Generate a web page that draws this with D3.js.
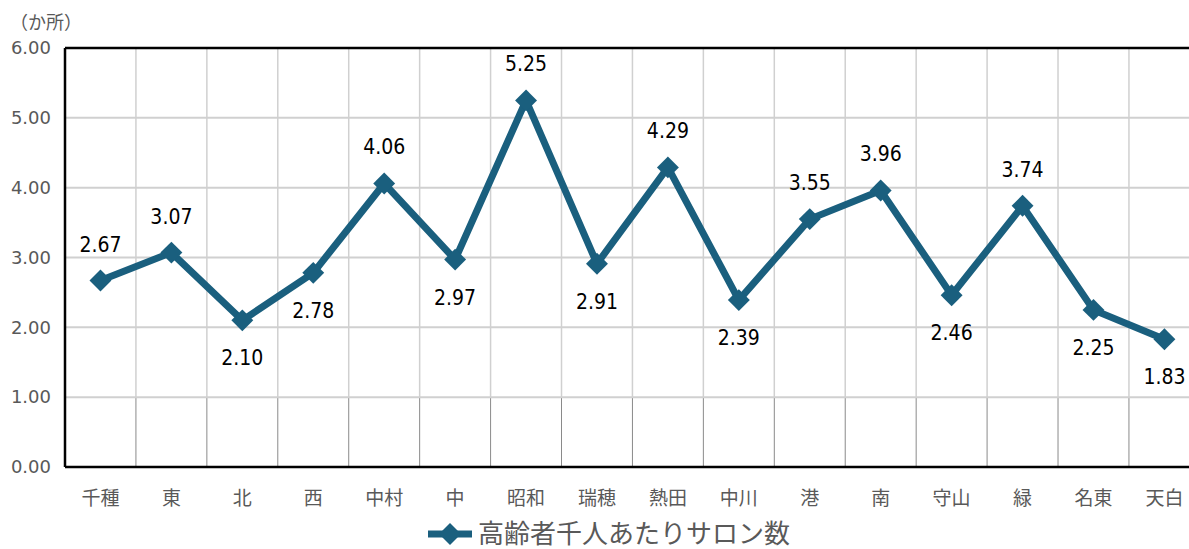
<!DOCTYPE html>
<html><head><meta charset="utf-8">
<script src="https://cdn.jsdelivr.net/npm/d3@7"></script>
<style>body{margin:0;background:#fff;}svg{display:block;}</style>
</head><body>
<svg id="c" width="1189" height="549"></svg>
<script>
const categories = ["千種","東","北","西","中村","中","昭和","瑞穂","熱田","中川","港","南","守山","緑","名東","天白"];
const values = [2.67,3.07,2.10,2.78,4.06,2.97,5.25,2.91,4.29,2.39,3.55,3.96,2.46,3.74,2.25,1.83];
const labelPos = ["above","above","below","below","above","below","above","below","above","below","above","above","below","above","below","below"];
const yTicks = [0,1,2,3,4,5,6];
const seriesName = "高齢者千人あたりサロン数";
const unitLabel = "（か所）";

(function(){
const svg = d3.select("#c");
const pLeft = 65, pTop = 48, pBottom = 467;
const band = 70.93;
const x = d3.scaleBand().domain(categories).range([pLeft, pLeft + band*categories.length]).padding(0);
const y = d3.scaleLinear().domain([0,6]).range([pBottom, pTop]);
const color = "#1a5f7e";

// horizontal gridlines
svg.append("g").selectAll("line").data(yTicks.filter(d=>d>0)).join("line")
  .attr("x1", pLeft).attr("x2", 1189).attr("y1", d=>y(d)).attr("y2", d=>y(d))
  .attr("stroke", "#d0d0d0").attr("stroke-width", 2);
// vertical gridlines
const vx = categories.slice(1).map(c => x(c));
svg.append("g").selectAll("line").data(vx).join("line")
  .attr("x1", d=>d).attr("x2", d=>d).attr("y1", pTop).attr("y2", y(1))
  .attr("stroke", "#d0d0d0").attr("stroke-width", 1.5);
svg.append("g").selectAll("line").data(vx).join("line")
  .attr("x1", d=>d).attr("x2", d=>d).attr("y1", y(1)+1).attr("y2", pBottom)
  .attr("stroke", "#8a8a8a").attr("stroke-width", 1);
// frame
svg.append("line").attr("x1", pLeft).attr("x2", 1189).attr("y1", pTop).attr("y2", pTop).attr("stroke", "#000").attr("stroke-width", 2.5);
svg.append("line").attr("x1", pLeft).attr("x2", 1189).attr("y1", pBottom).attr("y2", pBottom).attr("stroke", "#000").attr("stroke-width", 2.5);
svg.append("line").attr("x1", pLeft).attr("x2", pLeft).attr("y1", pTop).attr("y2", pBottom).attr("stroke", "#000").attr("stroke-width", 2.5);

// y tick labels
svg.append("g").selectAll("text").data(yTicks).join("text")
  .attr("x", 51).attr("y", d=>y(d)).attr("dy", "0.35em").attr("text-anchor", "end")
  .attr("font-family", "DejaVu Sans").attr("font-size", 18).attr("fill", "#595959")
  .text(d=>d3.format(".2f")(d));
svg.append("text").attr("x", 10).attr("y", 29)
  .attr("font-family", "Noto Sans CJK JP").attr("font-size", 18).attr("fill", "#595959").text(unitLabel);

// x labels
svg.append("g").selectAll("text").data(categories).join("text")
  .attr("x", d=>x(d)+x.bandwidth()/2).attr("y", 505).attr("text-anchor", "middle")
  .attr("font-family", "Noto Sans CJK JP").attr("font-size", 19).attr("fill", "#595959")
  .text(d=>d);

// line
const pts = categories.map((c,i)=>({c, v: values[i], p: labelPos[i]}));
svg.append("path").datum(pts)
  .attr("d", d3.line().x(d=>x(d.c)+x.bandwidth()/2).y(d=>y(d.v)))
  .attr("fill", "none").attr("stroke", color).attr("stroke-width", 7).attr("stroke-linejoin", "miter");
const diamond = d3.symbol().type(d3.symbolSquare).size(240);
svg.append("g").selectAll("path").data(pts).join("path")
  .attr("d", diamond())
  .attr("transform", d=>`translate(${x(d.c)+x.bandwidth()/2},${y(d.v)}) rotate(45)`)
  .attr("fill", color);

// data labels
svg.append("g").selectAll("text").data(pts).join("text")
  .attr("x", d=>x(d.c)+x.bandwidth()/2)
  .attr("y", d=>y(d.v) + (d.p==="above" ? -29 : 45))
  .attr("text-anchor", "middle")
  .attr("font-family", "DejaVu Sans Condensed").attr("font-size", 21).attr("fill", "#000")
  .text(d=>d3.format(".2f")(d.v));

// legend
const lg = svg.append("g");
lg.append("line").attr("x1", 428).attr("x2", 472).attr("y1", 534).attr("y2", 534).attr("stroke", color).attr("stroke-width", 7);
lg.append("path").attr("d", diamond()).attr("transform", "translate(450,534) rotate(45)").attr("fill", color);
lg.append("text").attr("x", 478).attr("y", 543)
  .attr("font-family", "Noto Sans CJK JP").attr("font-size", 26).attr("fill", "#595959").text(seriesName);
})();
</script>
</body></html>
